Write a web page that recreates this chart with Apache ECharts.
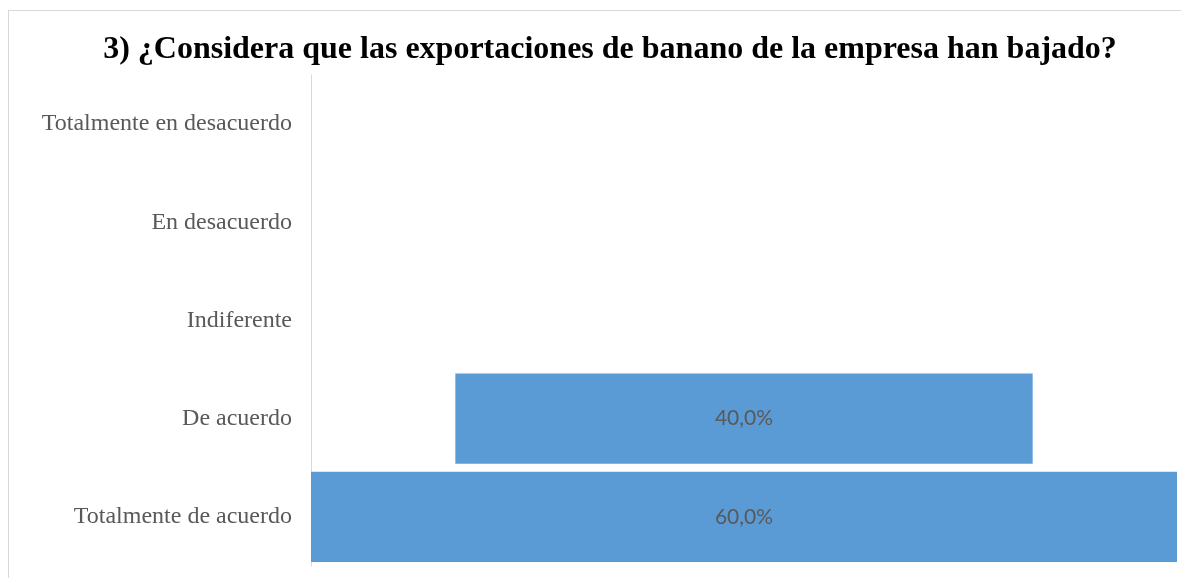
<!DOCTYPE html>
<html lang="es">
<head>
<meta charset="utf-8">
<title>Exportaciones de banano</title>
<script src="https://cdn.jsdelivr.net/npm/echarts@6/dist/echarts.min.js"></script>
<style>
	html, body { margin: 0; padding: 0; background: #fff; overflow: hidden; }
	#frame { position: absolute; left: 8px; top: 10px; width: 1200px; height: 600px; border: 1px solid #d9d9d9; }
	#main { position: absolute; left: 0; top: 0; width: 1181px; height: 578px; }
</style>
</head>
<body>
<div id="frame"></div>
<div id="main"></div>
<script type="text/javascript">
var categorias = ['Totalmente en desacuerdo', 'En desacuerdo', 'Indiferente', 'De acuerdo', 'Totalmente de acuerdo'];
var porcentajes = [0, 0, 0, 40, 60];

var maximo = Math.max.apply(null, porcentajes);
// relleno invisible para centrar cada barra (tipo embudo)
var relleno = porcentajes.map(function (v) { return (maximo - v) / 2; });

var myChart = echarts.init(document.getElementById('main'));
var option = {
	animation: false,
	title: {
		text: '3) ¿Considera que las exportaciones de banano de la empresa han bajado?',
		left: 605,
		textAlign: 'center',
		top: 29,
		textStyle: { fontFamily: 'Liberation Serif', fontWeight: 'bold', fontSize: 32, color: '#000' }
	},
	grid: { left: 311, right: 4, top: 75, bottom: 12 },
	xAxis: {
		type: 'value', min: 0, max: maximo, show: false
	},
	yAxis: {
		type: 'category',
		inverse: true,
		data: categorias,
		axisLine: { show: true, lineStyle: { color: '#d9d9d9', width: 1 } },
		axisTick: { show: false },
		axisLabel: { margin: 19, padding: [6, 0, 0, 0], fontFamily: 'Liberation Serif', fontSize: 24, color: '#595959' }
	},
	series: [
		{
			type: 'bar', stack: 'embudo', data: relleno, silent: true,
			itemStyle: { color: 'transparent' },
			barCategoryGap: '8%'
		},
		{
			type: 'bar', stack: 'embudo', data: porcentajes,
			itemStyle: { color: '#5b9bd5' },
			barCategoryGap: '8%',
			label: {
				show: true, position: 'inside', padding: [5, 0, 0, 0],
				fontFamily: 'Lato', fontSize: 21, color: '#595959',
				formatter: function (p) { return p.value ? p.value.toFixed(1).replace('.', ',') + '%' : ''; }
			}
		}
	]
};
myChart.setOption(option);
</script>
</body>
</html>
